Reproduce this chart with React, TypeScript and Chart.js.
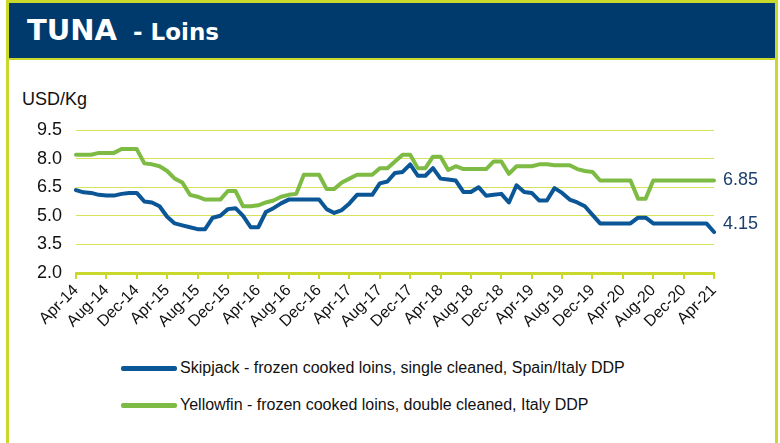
import React, { useEffect, useRef } from 'react';
import { Chart, registerables } from 'chart.js';

Chart.register(...registerables);

const MONTH_NAMES = ['Jan', 'Feb', 'Mar', 'Apr', 'May', 'Jun', 'Jul', 'Aug', 'Sep', 'Oct', 'Nov', 'Dec'];
const START_YEAR = 2014;
const START_MONTH = 3; // April
const N_MONTHS = 85;
const categories: string[] = Array.from({ length: N_MONTHS }, (_, i) => {
  const m = (START_MONTH + i) % 12;
  const y = START_YEAR + Math.floor((START_MONTH + i) / 12);
  return `${MONTH_NAMES[m]}-${String(y).slice(2)}`;
});

const skipjack: number[] = [
  6.35, 6.23, 6.2, 6.1, 6.06, 6.06, 6.15, 6.2, 6.2, 5.75,
  5.7, 5.5, 4.95, 4.6, 4.5, 4.4, 4.3, 4.3, 4.9, 5.0,
  5.35, 5.4, 5.0, 4.4, 4.4, 5.2, 5.4, 5.65, 5.85, 5.85,
  5.85, 5.85, 5.85, 5.35, 5.15, 5.3, 5.65, 6.1, 6.1, 6.1,
  6.7, 6.8, 7.25, 7.3, 7.7, 7.1, 7.1, 7.5, 6.95, 6.9,
  6.85, 6.25, 6.25, 6.5, 6.05, 6.1, 6.15, 5.7, 6.6, 6.25,
  6.2, 5.8, 5.8, 6.45, 6.2, 5.85, 5.7, 5.5, 5.05, 4.6,
  4.6, 4.6, 4.6, 4.6, 4.9, 4.9, 4.6, 4.6, 4.6, 4.6,
  4.6, 4.6, 4.6, 4.6, 4.15,
];

const yellowfin: number[] = [
  8.2, 8.2, 8.2, 8.3, 8.3, 8.3, 8.5, 8.5, 8.5, 7.75,
  7.7, 7.6, 7.35, 6.95, 6.75, 6.1, 6.0, 5.85, 5.85, 5.85,
  6.3, 6.3, 5.5, 5.5, 5.55, 5.7, 5.8, 6.0, 6.1, 6.15,
  7.15, 7.15, 7.15, 6.4, 6.4, 6.75, 6.95, 7.15, 7.15, 7.15,
  7.5, 7.5, 7.85, 8.2, 8.2, 7.5, 7.5, 8.1, 8.1, 7.4,
  7.6, 7.45, 7.45, 7.45, 7.45, 7.85, 7.85, 7.2, 7.6, 7.6,
  7.6, 7.7, 7.7, 7.65, 7.65, 7.65, 7.45, 7.35, 7.3, 6.85,
  6.85, 6.85, 6.85, 6.85, 5.9, 5.9, 6.85, 6.85, 6.85, 6.85,
  6.85, 6.85, 6.85, 6.85, 6.85,
];

const seriesNames = [
  'Skipjack - frozen cooked loins, single cleaned, Spain/Italy DDP',
  'Yellowfin - frozen cooked loins, double cleaned, Italy DDP',
];
const endLabels = ['4.15', '6.85'];
const yMin = 2.0;
const yMax = 9.5;
const yStep = 1.5;
const labelEvery = 4;

const BLUE = '#0a5696';
const GREEN = '#7dbb45';
const LIME = '#c8d92c';
const NAVY = '#003a6c';
const LABEL_BLUE = '#1b3f6e';

const endLabelPlugin = {
  id: 'endLabelPlugin',
  afterDatasetsDraw(chart: any) {
    const ctx = chart.ctx;
    const offsets = [-8, 0];
    chart.data.datasets.forEach((_ds: any, i: number) => {
      const meta = chart.getDatasetMeta(i);
      const pt = meta.data[meta.data.length - 1];
      if (!pt) return;
      ctx.save();
      ctx.font = '18px "Liberation Sans", Arial, sans-serif';
      ctx.fillStyle = LABEL_BLUE;
      ctx.textAlign = 'left';
      ctx.textBaseline = 'middle';
      ctx.fillText(endLabels[i], pt.x + 9, pt.y + offsets[i]);
      ctx.restore();
    });
  },
};

function TunaChart() {
  const ref = useRef<HTMLCanvasElement | null>(null);
  useEffect(() => {
    if (!ref.current) return;
    const chart = new Chart(ref.current, {
      type: 'line',
      data: {
        labels: categories,
        datasets: [
          {
            label: seriesNames[0],
            data: skipjack,
            borderColor: BLUE,
            backgroundColor: BLUE,
            borderWidth: 4,
            pointRadius: 0,
            tension: 0,
            borderJoinStyle: 'round',
            borderCapStyle: 'round',
            order: 1,
          },
          {
            label: seriesNames[1],
            data: yellowfin,
            borderColor: GREEN,
            backgroundColor: GREEN,
            borderWidth: 4,
            pointRadius: 0,
            tension: 0,
            borderJoinStyle: 'round',
            borderCapStyle: 'round',
            order: 0,
          },
        ],
      },
      options: {
        animation: false,
        responsive: false,
        maintainAspectRatio: false,
        layout: { padding: { top: 69, right: 60, left: 0, bottom: 0 } },
        plugins: {
          legend: { display: false },
          tooltip: { enabled: false },
        },
        scales: {
          x: {
            offset: false,
            afterFit: (s: any) => { s.height = 68; },
            grid: {
              display: true,
              drawOnChartArea: false,
              drawTicks: true,
              tickLength: 6,
              color: LIME,
              lineWidth: 2,
            },
            border: { display: true, color: LIME, width: 3 },
            ticks: {
              autoSkip: false,
              maxRotation: 45,
              minRotation: 45,
              padding: 2,
              color: '#111',
              font: { family: '"Liberation Sans", Arial, sans-serif', size: 16 },
              callback: (_v: any, i: number) => (i % labelEvery === 0 ? categories[i] : null),
            },
          },
          y: {
            min: yMin,
            max: yMax,
            afterFit: (s: any) => { s.width = 67; },
            grid: { color: '#d6e25a', lineWidth: 1, drawTicks: false },
            border: { display: false },
            ticks: {
              stepSize: yStep,
              padding: 14,
              color: '#111',
              font: { family: '"Liberation Sans", Arial, sans-serif', size: 18 },
              callback: (v: any) => Number(v).toFixed(1),
            },
          },
        },
      },
      plugins: [endLabelPlugin],
    } as any);
    return () => chart.destroy();
  }, []);
  return (
    <canvas
      ref={ref}
      width={765}
      height={280}
      style={{ position: 'absolute', left: 9, top: 61, width: 765, height: 280 }}
    />
  );
}

export default function App() {
  const legendColors = [BLUE, GREEN];
  const legendTops = [368, 405];
  return (
    <div style={{ position: 'fixed', left: 0, top: 0, width: 780, height: 443, background: '#fff', overflow: 'hidden' }}>
      <div
        style={{
          position: 'absolute', left: 6, top: 0, width: 766, height: 470,
          border: `3px solid ${LIME}`, boxSizing: 'content-box',
        }}
      />
      <div
        style={{
          position: 'absolute', left: 9, top: 3, width: 766, height: 55,
          background: NAVY, borderBottom: `2px solid ${LIME}`,
        }}
      >
        <div
          style={{
            position: 'absolute', left: 18, top: 0, height: 55, lineHeight: '55px',
            color: '#fff', fontFamily: '"DejaVu Sans", Verdana, sans-serif', fontWeight: 'bold', whiteSpace: 'nowrap',
          }}
        >
          <span style={{ fontSize: 29 }}>TUNA</span>
          <span style={{ fontSize: 23 }}>&nbsp; - Loins</span>
        </div>
      </div>
      <div
        style={{
          position: 'absolute', left: 22, top: 89, fontSize: 18, color: '#111',
          fontFamily: '"Liberation Sans", Arial, sans-serif', whiteSpace: 'nowrap',
        }}
      >
        USD/Kg
      </div>
      <TunaChart />
      {seriesNames.map((name, i) => (
        <div key={name} style={{ position: 'absolute', left: 121, top: legendTops[i] - 12, height: 24, display: 'flex', alignItems: 'center', whiteSpace: 'nowrap' }}>
          <div style={{ width: 56, height: 5, background: legendColors[i], borderRadius: 2 }} />
          <span style={{ marginLeft: 3, fontFamily: '"Liberation Sans", Arial, sans-serif', fontSize: 16, color: '#111' }}>
            {name}
          </span>
        </div>
      ))}
    </div>
  );
}
